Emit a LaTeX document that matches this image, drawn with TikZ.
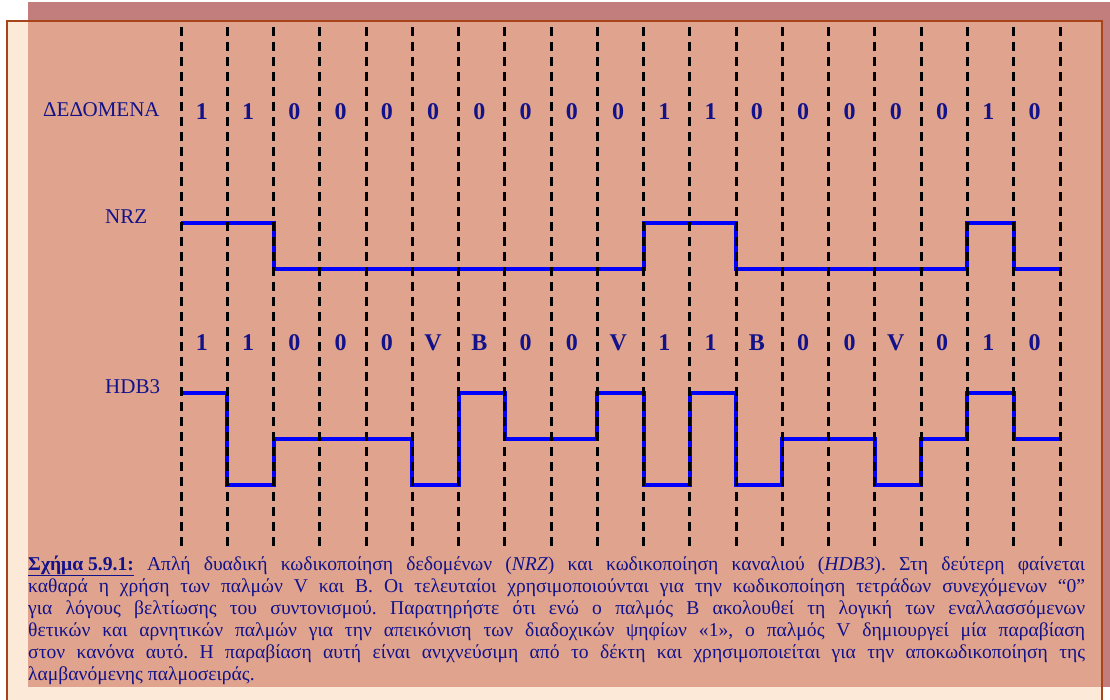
\documentclass[tikz,border=0pt]{standalone}
\usepackage{fontspec}
\setmainfont{Liberation Serif}
\definecolor{shadowrose}{HTML}{C27E7C}
\definecolor{cream}{HTML}{FDE9D8}
\definecolor{salmon}{HTML}{E0A48E}
\definecolor{frame}{HTML}{A8441C}
\definecolor{ink}{HTML}{12128A}
\definecolor{wave}{HTML}{0000FF}
\tikzset{
  bitgrid/.style={black, line width=3pt, dash pattern=on 9pt off 6pt},
  pulse/.style={wave, line width=4pt},
  bit/.style={ink, font=\fontsize{24}{24}\selectfont\bfseries, anchor=base, inner sep=0pt},
  rowlabel/.style={ink, font=\fontsize{21}{21}\selectfont, anchor=base west, inner sep=0pt},
  caption/.style={ink, font=\fontsize{19.6}{22}\selectfont\frenchspacing, anchor=base west, inner sep=0pt,
    text width=1057pt, align=justify}
}
\begin{document}
\begin{tikzpicture}[x=1pt,y=-1pt]
\useasboundingbox (0,0) rectangle (1110,700);
\clip (0,0) rectangle (1110,700);
\fill[white] (0,0) rectangle (1110,700);
\fill[shadowrose] (28,2) rectangle (1110,687);
\filldraw[fill=cream, draw=frame, line width=1.5pt] (7,21) rectangle (1102,720);
\fill[salmon] (28,21.75) rectangle (1101.25,687);

\node[rowlabel] (data) at (43,117) {ΔΕΔΟΜΕΝΑ};
\node[rowlabel] (nrz) at (105,224) {NRZ};
\node[rowlabel] (hdb) at (105,393) {HDB3};

\begin{scope}[shift={(181,0)}, x=46.263pt]
\draw[pulse] (0,223) -| (2,269) -| (10,223) -| (12,269) -| (17,223) -| (18,269) -- (19,269);
\draw[pulse] (0,393) -| (1,485) -| (2,439) -| (5,485) -| (6,393) -| (7,439) -| (9,393)
  -| (10,485) -| (11,393) -| (12,485) -| (13,439) -| (15,485) -| (16,439) -| (17,393)
  -| (18,439) -- (19,439);
\foreach \b [count=\i from 0] in {1,1,0,0,0,0,0,0,0,0,1,1,0,0,0,0,0,1,0}
  \node[bit] (d\i) at (\i+.45,120) {\b};
\foreach \b [count=\i from 0] in {1,1,0,0,0,V,B,0,0,V,1,1,B,0,0,V,0,1,0}
  \node[bit] (h\i) at (\i+.45,350) {\b};
\foreach \i in {0,...,19}
  \draw[bitgrid] (\i,27) -- (\i,547);
\end{scope}

\node[caption] (cap) at (28,570) {\underline{\textbf{Σχήμα 5.9.1:}} Απλή δυαδική κωδικοποίηση δεδομένων (\textit{NRZ}) και κωδικοποίηση καναλιού (\textit{HDB3}). Στη δεύτερη φαίνεται\linebreak
καθαρά η χρήση των παλμών V και B. Οι τελευταίοι χρησιμοποιούνται για την κωδικοποίηση τετράδων συνεχόμενων “0”\linebreak
για λόγους βελτίωσης του συντονισμού. Παρατηρήστε ότι ενώ ο παλμός B ακολουθεί τη λογική των εναλλασσόμενων\linebreak
θετικών και αρνητικών παλμών για την απεικόνιση των διαδοχικών ψηφίων «1», ο παλμός V δημιουργεί μία παραβίαση\linebreak
στον κανόνα αυτό. Η παραβίαση αυτή είναι ανιχνεύσιμη από το δέκτη και χρησιμοποιείται για την αποκωδικοποίηση της\linebreak
λαμβανόμενης παλμοσειράς.};
\end{tikzpicture}
\end{document}
